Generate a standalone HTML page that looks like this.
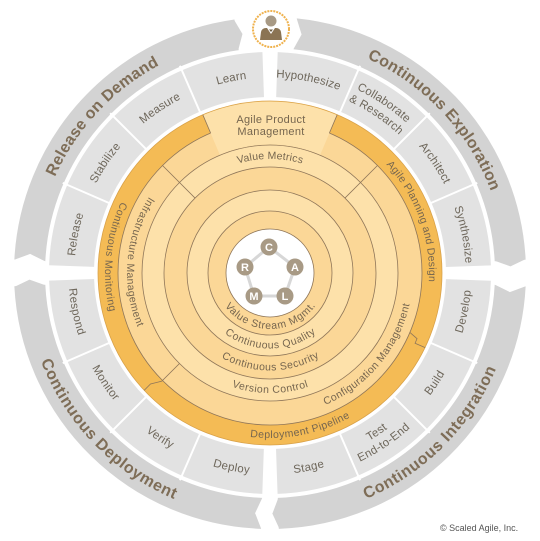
<!DOCTYPE html>
<html><head><meta charset="utf-8"><style>
html,body{margin:0;padding:0;background:#fff;}
svg{display:block;font-family:"Liberation Sans",sans-serif;}
.rt{font-size:10.5px;fill:#76664f;letter-spacing:0.3px;}
.st{font-size:11.5px;fill:#6e675b;letter-spacing:0.2px;}
.at{font-size:16px;font-weight:bold;fill:#7e6d57;letter-spacing:0.4px;}
</style></head><body>
<svg width="540" height="541" viewBox="0 0 540 541" xmlns="http://www.w3.org/2000/svg">
<defs>
<path id="ccw53" d="M270,220 A53,53 0 1 0 270,326 A53,53 0 1 0 270,220"/>
<path id="ccw72" d="M270,200.5 A72.5,72.5 0 1 0 270,345.5 A72.5,72.5 0 1 0 270,200.5"/>
<path id="ccw94" d="M270,178.5 A94.5,94.5 0 1 0 270,367.5 A94.5,94.5 0 1 0 270,178.5"/>
<path id="ccw117" d="M270,156 A117,117 0 1 0 270,390 A117,117 0 1 0 270,156"/>
<path id="ccw140" d="M270,133 A140,140 0 1 0 270,413 A140,140 0 1 0 270,133"/>
<path id="ccw162" d="M270,111 A162,162 0 1 0 270,435 A162,162 0 1 0 270,111"/>
<path id="ccw198" d="M270,74.5 A198.5,198.5 0 1 0 270,471.5 A198.5,198.5 0 1 0 270,74.5"/>
<path id="ccw192" d="M270,81 A192,192 0 1 0 270,465 A192,192 0 1 0 270,81"/>
<path id="ccw206" d="M270,67 A206,206 0 1 0 270,479 A206,206 0 1 0 270,67"/>
<path id="ccw240" d="M270,32.5 A240.5,240.5 0 1 0 270,513.5 A240.5,240.5 0 1 0 270,32.5"/>
<path id="cw117" d="M270,390 A117,117 0 1 1 270,156 A117,117 0 1 1 270,390"/>
<path id="cw162" d="M270,435 A162,162 0 1 1 270,111 A162,162 0 1 1 270,435"/>
<path id="cw198" d="M270,471.5 A198.5,198.5 0 1 1 270,74.5 A198.5,198.5 0 1 1 270,471.5"/>
<path id="cw192" d="M270,465 A192,192 0 1 1 270,81 A192,192 0 1 1 270,465"/>
<path id="cw206" d="M270,479 A206,206 0 1 1 270,67 A206,206 0 1 1 270,479"/>
<path id="cw240" d="M270,513.5 A240.5,240.5 0 1 1 270,32.5 A240.5,240.5 0 1 1 270,513.5"/>
</defs>

<g fill="none" stroke="#d3d3d3" stroke-width="31">
<circle cx="270" cy="273" r="240.5" stroke-dasharray="331.6 1600" transform="rotate(183 270 273)"/>
<circle cx="270" cy="273" r="240.5" stroke-dasharray="340 1600" transform="rotate(276 270 273)"/>
<circle cx="270" cy="273" r="240.5" stroke-dasharray="356.8 1600" transform="rotate(3 270 273)"/>
<circle cx="270" cy="273" r="240.5" stroke-dasharray="356.8 1600" transform="rotate(92 270 273)"/>
</g>
<g fill="#d3d3d3">
<polygon points="495,272.5 526,272.5 510.5,279" transform="rotate(262 270 273)"/>
<polygon points="495,272.5 526,272.5 510.5,279" transform="rotate(357 270 273)"/>
<polygon points="495,272.5 526,272.5 510.5,279" transform="rotate(88 270 273)"/>
<polygon points="495,272.5 526,272.5 510.5,279" transform="rotate(177 270 273)"/>
</g>
<g fill="#fff">
<polygon points="493,272 528,272 510.5,279.5" transform="rotate(183 270 273)"/>
<polygon points="493,272 528,272 510.5,279.5" transform="rotate(276 270 273)"/>
<polygon points="493,272 528,272 510.5,279.5" transform="rotate(3 270 273)"/>
<polygon points="493,272 528,272 510.5,279.5" transform="rotate(92 270 273)"/>
</g>

<g fill="none" stroke="#e2e2e2" stroke-width="45">
<circle cx="270" cy="273" r="198.5" stroke-dasharray="297.9 1300" transform="rotate(2 270 273)"/>
<circle cx="270" cy="273" r="198.5" stroke-dasharray="297.9 1300" transform="rotate(92 270 273)"/>
<circle cx="270" cy="273" r="198.5" stroke-dasharray="297.9 1300" transform="rotate(182 270 273)"/>
<circle cx="270" cy="273" r="198.5" stroke-dasharray="297.9 1300" transform="rotate(272 270 273)"/>
</g>
<g stroke="#fff" stroke-width="2">
<line x1="443" y1="273" x2="496" y2="273" transform="rotate(23.5 270 273)"/>
<line x1="443" y1="273" x2="496" y2="273" transform="rotate(45 270 273)"/>
<line x1="443" y1="273" x2="496" y2="273" transform="rotate(66.5 270 273)"/>
<line x1="443" y1="273" x2="496" y2="273" transform="rotate(113.5 270 273)"/>
<line x1="443" y1="273" x2="496" y2="273" transform="rotate(135 270 273)"/>
<line x1="443" y1="273" x2="496" y2="273" transform="rotate(156.5 270 273)"/>
<line x1="443" y1="273" x2="496" y2="273" transform="rotate(203.5 270 273)"/>
<line x1="443" y1="273" x2="496" y2="273" transform="rotate(225 270 273)"/>
<line x1="443" y1="273" x2="496" y2="273" transform="rotate(246.5 270 273)"/>
<line x1="443" y1="273" x2="496" y2="273" transform="rotate(293.5 270 273)"/>
<line x1="443" y1="273" x2="496" y2="273" transform="rotate(315 270 273)"/>
<line x1="443" y1="273" x2="496" y2="273" transform="rotate(336.5 270 273)"/>
</g>

<g stroke="#8f7659" stroke-width="0.8">
<circle cx="270" cy="273" r="172" fill="#f4bb55" stroke="#d9a24a"/>
<circle cx="270" cy="273" r="152" fill="#fbd797"/>
<circle cx="270" cy="273" r="128" fill="#fde1aa"/>
<circle cx="270" cy="273" r="106" fill="#fbd797"/>
<circle cx="270" cy="273" r="83" fill="#fde1aa"/>
<circle cx="270" cy="273" r="62" fill="#fbd797"/>
<circle cx="270" cy="273" r="44" fill="#ffffff"/>
</g>
<circle cx="270" cy="273" r="150" fill="none" stroke="#fde1aa" stroke-width="43" stroke-dasharray="120.4 1000" transform="rotate(247 270 273)"/>
<g stroke="#8f7659" stroke-width="0.8" fill="none">
<line x1="376" y1="273" x2="422" y2="273" transform="rotate(225 270 273)"/>
<line x1="376" y1="273" x2="422" y2="273" transform="rotate(315 270 273)"/>
<polyline points="398,273 423,273 433,279 442,279" transform="rotate(135 270 273)"/>
<polyline points="422,273 431,276 431,281 442,281" transform="rotate(23 270 273)"/>
<line x1="422" y1="273" x2="442" y2="273" transform="rotate(247 270 273)"/>
<line x1="422" y1="273" x2="442" y2="273" transform="rotate(293 270 273)"/>
</g>

<polygon points="269,247 295,267 285,296 254,296 245,267" fill="none" stroke="#d7d7d7" stroke-width="3"/>
<g fill="#a89a85">
<circle cx="269" cy="247" r="8.5"/><circle cx="295" cy="267" r="8.5"/><circle cx="285" cy="296" r="8.5"/><circle cx="254" cy="296" r="8.5"/><circle cx="245" cy="267" r="8.5"/>
</g>
<g fill="#fff" font-size="11" font-weight="bold" text-anchor="middle">
<text x="269" y="251">C</text><text x="295" y="271">A</text><text x="285" y="300">L</text><text x="254" y="300">M</text><text x="245" y="271">R</text>
</g>

<g class="rt" text-anchor="middle" dominant-baseline="central">
<text><textPath href="#ccw53" startOffset="166.5">Value Stream Mgmt.</textPath></text>
<text><textPath href="#ccw72" startOffset="227.8">Continuous Quality</textPath></text>
<text><textPath href="#ccw94" startOffset="296.9">Continuous Security</textPath></text>
<text><textPath href="#ccw117" startOffset="367.6">Version Control</textPath></text>
<text><textPath href="#ccw140" startOffset="562">Configuration Management</textPath></text>
<text><textPath href="#ccw162" startOffset="540">Deployment Pipeline</textPath></text>
<text><textPath href="#ccw140" startOffset="207.7">Infrastructure Management</textPath></text>
<text><textPath href="#ccw162" startOffset="237.5">Continuous Monitoring</textPath></text>
<text><textPath href="#cw117" startOffset="367.6">Value Metrics</textPath></text>
<text><textPath href="#cw162" startOffset="706.9">Agile Planning and Design</textPath></text>
</g>
<g class="rt" text-anchor="middle" style="font-size:11px">
<text x="271" y="123">Agile Product</text>
<text x="271" y="135">Management</text>
</g>

<g class="st" text-anchor="middle" dominant-baseline="central">
<text><textPath href="#cw198" startOffset="350.8">Release</textPath></text>
<text><textPath href="#cw198" startOffset="428.7">Stabilize</textPath></text>
<text><textPath href="#cw198" startOffset="506.7">Measure</textPath></text>
<text><textPath href="#cw198" startOffset="584.6">Learn</textPath></text>
<text><textPath href="#cw198" startOffset="662.6">Hypothesize</textPath></text>
<text><textPath href="#cw206" startOffset="768.5">Collaborate</textPath></text>
<text><textPath href="#cw192" startOffset="716.3">&amp; Research</textPath></text>
<text><textPath href="#cw198" startOffset="818.5">Architect</textPath></text>
<text><textPath href="#cw198" startOffset="896.4">Synthesize</textPath></text>
<text><textPath href="#ccw198" startOffset="896.4">Develop</textPath></text>
<text><textPath href="#ccw198" startOffset="818.5">Build</textPath></text>
<text><textPath href="#ccw192" startOffset="716.3">Test</textPath></text>
<text><textPath href="#ccw206" startOffset="768.5">End-to-End</textPath></text>
<text><textPath href="#ccw198" startOffset="662.6">Stage</textPath></text>
<text><textPath href="#ccw198" startOffset="584.6">Deploy</textPath></text>
<text><textPath href="#ccw198" startOffset="506.7">Verify</textPath></text>
<text><textPath href="#ccw198" startOffset="428.7">Monitor</textPath></text>
<text><textPath href="#ccw198" startOffset="350.8">Respond</textPath></text>
</g>

<g class="at" text-anchor="middle" dominant-baseline="central">
<text><textPath href="#cw240" startOffset="558.3">Release on Demand</textPath></text>
<text><textPath href="#cw240" startOffset="952.8">Continuous Exploration</textPath></text>
<text><textPath href="#ccw240" startOffset="944.4">Continuous Integration</textPath></text>
<text><textPath href="#ccw240" startOffset="562.5">Continuous Deployment</textPath></text>
</g>

<circle cx="271" cy="29" r="18" fill="#fff" stroke="#efb24e" stroke-width="2" stroke-dasharray="2 1"/>
<circle cx="271" cy="21" r="5.5" fill="#a89a85"/>
<path d="M260,40 L261,32 Q262,28 266,28 L276,28 Q280,28 281,32 L282,40 Z" fill="#8b7454"/>
<path d="M267,28 L271,34 L275,28 Z" fill="#fff"/>
<path d="M269,29.5 L273,29.5 L271,32 Z" fill="#6b5a40"/>

<text x="440" y="531" font-size="9" fill="#555">© Scaled Agile, Inc.</text>
</svg>
</body></html>
